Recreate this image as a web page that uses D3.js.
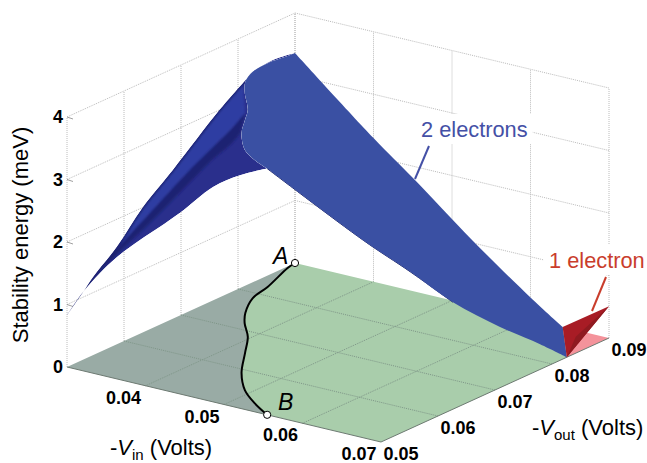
<!DOCTYPE html>
<html>
<head>
<meta charset="utf-8">
<script src="https://cdn.jsdelivr.net/npm/d3@7"></script>
<style>
  html, body { margin: 0; padding: 0; background: #fff; }
  text { font-family: "Liberation Sans", Arial, sans-serif; }
</style>
</head>
<body>
<div id="chart"></div>
<script>
const width = 647
const height = 463

// tick labels
const vinTicks = [0.04, 0.05, 0.06, 0.07]
const voutTicks = [0.05, 0.06, 0.07, 0.08, 0.09]
const zTicks = [0, 1, 2, 3, 4]

// the A-B curve on the floor, and the height of the surface ridge above it
const curveVin = [0.03, 0.0303, 0.0321, 0.0329, 0.035, 0.0368, 0.0396, 0.0423, 0.0457, 0.0491, 0.0523, 0.0555]
const curveVout = [0.09, 0.0883, 0.0823, 0.0786, 0.0744, 0.0718, 0.0685, 0.0643, 0.059, 0.0549, 0.0522, 0.05]
const ridgeZ = [3.36, 3.39, 3.58, 3.62, 3.7, 3.7, 3.63, 3.73, 3.84, 3.84, 3.89, 3.94]

// surface edges as [vin, vout, energy]
const backEdge = [[0.03, 0.05, 0.83], [0.03, 0.0528, 1.08], [0.03, 0.0546, 1.25], [0.03, 0.0588, 1.56], [0.03, 0.0633, 2.0],
  [0.03, 0.0686, 2.38], [0.03, 0.0768, 3.0], [0.03, 0.0809, 3.26], [0.03, 0.0826, 3.36], [0.03, 0.0861, 3.41], [0.03, 0.09, 3.36]]
const frontEdge = [[0.03, 0.05, 0.83], [0.03204, 0.05, 1.26], [0.0342, 0.05, 1.63], [0.03637, 0.05, 1.95], [0.0393, 0.05, 2.31],
  [0.04185, 0.05, 2.6], [0.0444, 0.05, 2.9], [0.0486, 0.05, 3.44], [0.05204, 0.05, 3.73], [0.0555, 0.05, 3.94]]
const lowerEdge = [[0.0555, 0.05, 3.94], [0.06015, 0.06043, 2.5], [0.06243, 0.06555, 1.85], [0.0645, 0.0702, 1.23],
  [0.06677, 0.07533, 0.69], [0.0687, 0.0797, 0.29], [0.07, 0.0826, 0]]
const upperEdge = [[0.03, 0.09, 3.36], [0.04, 0.09, 2.3], [0.04503, 0.09, 1.81], [0.05255, 0.09, 1.045], [0.06, 0.09, 0.35], [0.0641, 0.09, 0]]

// shading creases on the steep side
const crease = [[0.0311, 0.0513, 1.18], [0.03228, 0.05265, 1.51], [0.03401, 0.05466, 1.96], [0.03573, 0.05666, 2.36],
  [0.0385, 0.05988, 3.0], [0.03988, 0.06148, 3.29], [0.04148, 0.06334, 3.63], [0.0423, 0.0643, 3.84]]
const creaseLow = [[0.0311, 0.0513, 1.18], [0.03228, 0.05265, 1.48], [0.03401, 0.05466, 1.85], [0.03573, 0.05666, 2.2],
  [0.0385, 0.05988, 2.8], [0.03988, 0.06148, 3.1], [0.04148, 0.06334, 3.39], [0.04196, 0.0639, 3.52]]

// 1 electron surface
const oneElectron = [[0.0641, 0.09, 0], [0.07, 0.09, 0.51], [0.07, 0.0826, 0]]
const oneElectronDark = [[0.07, 0.0826, 0], [0.07, 0.09, 0.51], [0.067, 0.0883, 0]]
const pinkFloor = [[0.07, 0.0826, 0], [0.07, 0.09, 0], [0.0641, 0.09, 0]]

const x0 = 67, y0 = 367

const xVin = d3.scaleLinear().domain([0.03, 0.07]).range([0, 314])
const yVin = d3.scaleLinear().domain([0.03, 0.07]).range([0, 75])
const xVout = d3.scaleLinear().domain([0.05, 0.09]).range([0, 228])
const yVout = d3.scaleLinear().domain([0.05, 0.09]).range([0, -104])
const yZ = d3.scaleLinear().domain([0, 4]).range([0, -250])

function project(d) {
  return [x0 + xVin(d[0]) + xVout(d[1]), y0 + yVin(d[0]) + yVout(d[1]) + yZ(d[2])]
}

const poly = d3.line().x(d => project(d)[0]).y(d => project(d)[1])
const smooth = d3.line().curve(d3.curveCatmullRom).x(d => project(d)[0]).y(d => project(d)[1])

// joins smooth pieces into one closed outline
function outline(pieces) {
  return pieces.map((p, i) => {
    const d = smooth(p)
    return i == 0 ? d : "L" + d.slice(1)
  }).join("") + "Z"
}

const svg = d3.select("#chart")
  .append("svg")
  .attr("width", width)
  .attr("height", height)
  .style("display", "block")

const defs = svg.append("defs")
defs.append("filter").attr("id", "soft")
  .attr("x", "-10%").attr("y", "-10%").attr("width", "120%").attr("height", "120%")
  .append("feGaussianBlur").attr("stdDeviation", 1.1)

function dotted(g, a, b, color) {
  const p = project(a), q = project(b)
  g.append("line")
    .attr("x1", p[0]).attr("y1", p[1])
    .attr("x2", q[0]).attr("y2", q[1])
    .attr("stroke", color)
    .attr("stroke-width", 1)
    .attr("stroke-dasharray", "1 1")
}

// Walls
const walls = svg.append("g")
voutTicks.forEach(v => dotted(walls, [0.03, v, 0], [0.03, v, 4], "#bcbcbc"))
const wallVin = [0.03].concat(vinTicks)
wallVin.forEach(v => dotted(walls, [v, 0.09, 0], [v, 0.09, 4], "#bcbcbc"))
zTicks.slice(1).forEach(z => {
  dotted(walls, [0.03, 0.05, z], [0.03, 0.09, z], "#bcbcbc")
  dotted(walls, [0.03, 0.09, z], [0.07, 0.09, z], "#bcbcbc")
})

// Floor
const curve3d = curveVin.map((v, i) => [v, curveVout[i], 0])
const ridge3d = curveVin.map((v, i) => [v, curveVout[i], ridgeZ[i]])

svg.append("path")
  .attr("d", poly([[0.03, 0.09, 0], [0.0641, 0.09, 0], [0.07, 0.0826, 0], [0.07, 0.05, 0], [0.0555, 0.05, 0]].concat(curve3d.slice().reverse())))
  .attr("fill", "#a9cdab")
svg.append("path")
  .attr("d", poly([[0.03, 0.05, 0]].concat(curve3d.slice()).concat([[0.0555, 0.05, 0]])))
  .attr("fill", "#99aba5")
svg.append("path")
  .attr("d", poly(pinkFloor))
  .attr("fill", "#f4939b")

// Floor grid
const floorGrid = svg.append("g")
vinTicks.slice(0, 3).forEach(v => dotted(floorGrid, [v, 0.05, 0], [v, 0.09, 0], "#7f9688"))
voutTicks.slice(1, 4).forEach(v => dotted(floorGrid, [0.03, v, 0], [0.07, v, 0], "#7f9688"))

// Front floor edges
svg.append("path")
  .attr("d", poly([[0.03, 0.05, 0], [0.07, 0.05, 0], [0.07, 0.09, 0]]))
  .attr("fill", "none")
  .attr("stroke", "#6d7a72")
  .attr("stroke-width", 1)

// Z tick marks
zTicks.slice(1).forEach(z => {
  const p = project([0.03, 0.05, z])
  svg.append("line")
    .attr("x1", p[0]).attr("y1", p[1])
    .attr("x2", p[0] + 6).attr("y2", p[1] + 2)
    .attr("stroke", "#888").attr("stroke-width", 0.8)
})

// Steep side of the 2 electron surface
const steep = outline([backEdge, ridge3d, frontEdge.slice().reverse()])
defs.append("clipPath").attr("id", "steepClip")
  .append("path").attr("d", steep)

const steepG = svg.append("g").attr("clip-path", "url(#steepClip)")
steepG.append("path").attr("d", steep).attr("fill", "#2a2f8c")
const bands = steepG.append("g").attr("filter", "url(#soft)")
bands.append("path")
  .attr("d", outline([backEdge.slice(0, 8), crease.slice().reverse()]))
  .attr("fill", "#2d3ca2")
bands.append("path")
  .attr("d", outline([crease, creaseLow.slice().reverse()]))
  .attr("fill", "#1f2272")
bands.append("path")
  .attr("d", smooth(backEdge.slice(0, 9)))
  .attr("fill", "none")
  .attr("stroke", "#1b2170")
  .attr("stroke-width", 3)

// Wide side of the 2 electron surface
svg.append("path")
  .attr("d", smooth(lowerEdge.slice(0, 4)))
  .attr("fill", "none")
  .attr("stroke", "#1a1f5e")
  .attr("stroke-width", 1)
svg.append("path")
  .attr("d", outline([ridge3d, lowerEdge, upperEdge.slice().reverse()]))
  .attr("fill", "#3a50a3")

// 1 electron surface
svg.append("path").attr("d", poly(oneElectron)).attr("fill", "#a81c25")
svg.append("path").attr("d", poly(oneElectronDark)).attr("fill", "#8f1a20")

// A-B curve
svg.append("path")
  .attr("d", smooth(curve3d))
  .attr("fill", "none")
  .attr("stroke", "#000")
  .attr("stroke-width", 2)

const endPoints = [curve3d[0], curve3d[curve3d.length - 1]]
svg.selectAll(".end")
  .data(endPoints)
  .enter()
  .append("circle")
  .attr("class", "end")
  .attr("cx", d => project(d)[0])
  .attr("cy", d => project(d)[1])
  .attr("r", 3.6)
  .attr("fill", "#fff")
  .attr("stroke", "#000")
  .attr("stroke-width", 1)

svg.append("text").attr("x", 273).attr("y", 264)
  .style("font-size", "23px").style("font-style", "italic").text("A")
svg.append("text").attr("x", 278).attr("y", 410)
  .style("font-size", "23px").style("font-style", "italic").text("B")

// Tick labels
function tickLabel(d, dx, dy, txt, anchor) {
  const p = project(d)
  svg.append("text")
    .attr("x", p[0] + dx).attr("y", p[1] + dy)
    .attr("text-anchor", anchor)
    .attr("dominant-baseline", "central")
    .style("font-size", "18px")
    .style("font-weight", "bold")
    .text(txt)
}
vinTicks.forEach(v => tickLabel([v, 0.05, 0], -22, 12, v.toFixed(2), "middle"))
voutTicks.forEach(v => tickLabel([0.07, v, 0], 20, 12, v.toFixed(2), "middle"))
zTicks.forEach(z => tickLabel([0.03, 0.05, z], -4, 0, z, "end"))

// Axis titles
svg.append("text")
  .attr("transform", "translate(28,235) rotate(-90)")
  .attr("text-anchor", "middle")
  .style("font-size", "22px")
  .text("Stability energy (meV)")

function voltLabel(x, y, sub) {
  const t = svg.append("text").attr("x", x).attr("y", y).style("font-size", "22px")
  t.append("tspan").text("-")
  t.append("tspan").style("font-style", "italic").text("V")
  t.append("tspan").attr("dy", 5).style("font-size", "15px").text(sub)
  t.append("tspan").attr("dy", -5).text(" (Volts)")
}
voltLabel(110, 455, "in")
voltLabel(532, 435, "out")

// Annotations, white box breaks the wall grid behind them
function note(x, y, txt, color, line) {
  const bg = svg.append("rect").attr("fill", "#fff")
  const t = svg.append("text")
    .attr("x", x).attr("y", y)
    .attr("fill", color)
    .style("font-size", "21.8px")
    .text(txt)
  const b = t.node().getBBox()
  bg.attr("x", b.x - 5).attr("y", b.y - 3).attr("width", b.width + 10).attr("height", b.height + 5)
  svg.append("line")
    .attr("x1", line[0]).attr("y1", line[1])
    .attr("x2", line[2]).attr("y2", line[3])
    .attr("stroke", color)
    .attr("stroke-width", 2)
}
note(421, 137, "2 electrons", "#4450a6", [429, 146, 415, 179])
note(549, 268, "1 electron", "#c93d2c", [606, 277, 592, 311])
</script>
</body>
</html>
